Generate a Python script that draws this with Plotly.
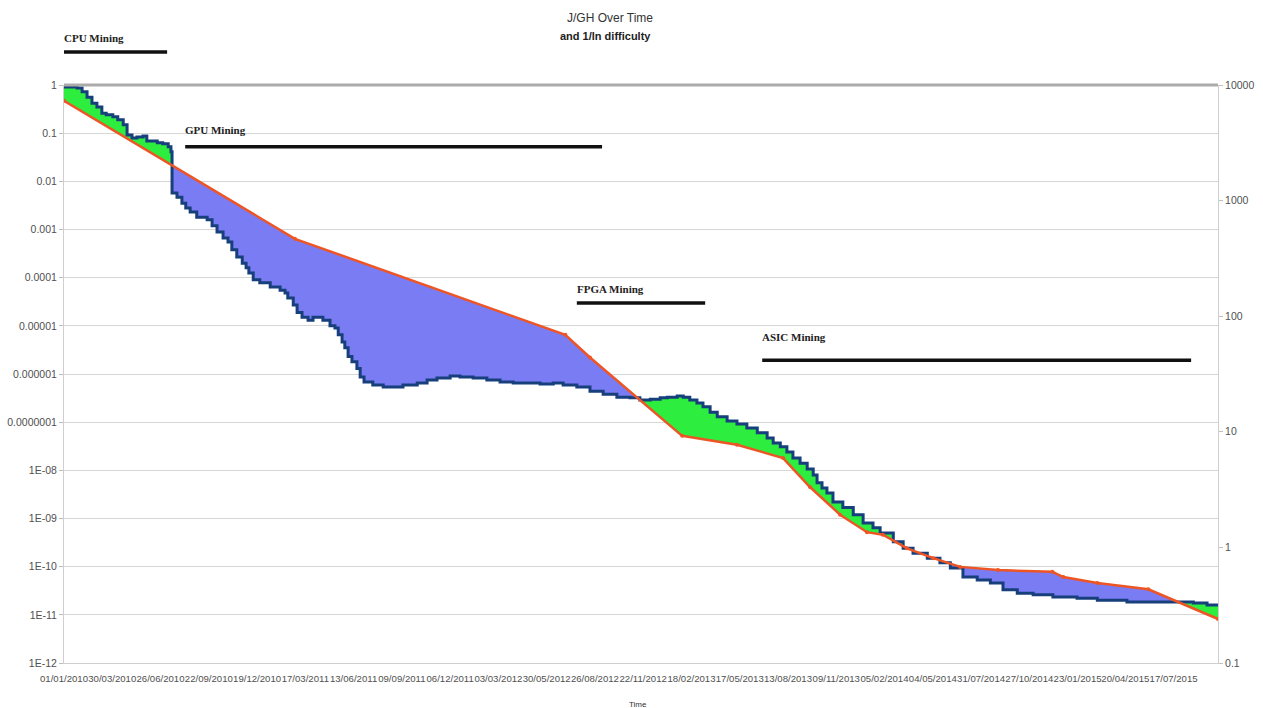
import numpy as np
import pandas as pd
import plotly.graph_objects as go

# ---------------- data ----------------
title_line1 = "J/GH Over Time"
title_line2 = "and 1/ln difficulty"
x_title = "Time"

blue_dates = [
    "2010-01-01", "2010-01-25", "2010-02-03", "2010-02-12", "2010-02-21", "2010-03-02",
    "2010-03-11", "2010-03-19", "2010-03-31", "2010-04-09", "2010-04-19", "2010-04-26",
    "2010-05-05", "2010-05-14", "2010-05-25", "2010-06-01", "2010-06-20", "2010-06-30",
    "2010-07-10", "2010-07-15", "2010-07-17", "2010-07-26", "2010-08-04", "2010-08-11",
    "2010-08-19", "2010-08-31", "2010-09-19", "2010-09-28", "2010-10-07", "2010-10-18",
    "2010-10-27", "2010-11-03", "2010-11-12", "2010-11-22", "2010-11-29", "2010-12-04",
    "2010-12-12", "2010-12-24", "2011-01-12", "2011-01-30", "2011-02-08", "2011-02-13",
    "2011-02-23", "2011-03-02", "2011-03-11", "2011-03-22", "2011-03-31", "2011-04-18",
    "2011-05-01", "2011-05-10", "2011-05-16", "2011-05-23", "2011-05-28", "2011-06-03",
    "2011-06-10", "2011-06-19", "2011-06-25", "2011-07-02", "2011-07-18", "2011-08-06",
    "2011-08-24", "2011-09-11", "2011-10-07", "2011-10-25", "2011-11-12", "2011-12-06",
    "2011-12-24", "2012-01-17", "2012-02-11", "2012-03-06", "2012-03-30", "2012-04-24",
    "2012-05-18", "2012-06-11", "2012-06-29", "2012-07-24", "2012-08-17", "2012-09-10",
    "2012-10-05", "2012-10-29", "2012-11-16", "2012-12-05", "2012-12-23", "2013-01-05",
    "2013-01-23", "2013-02-03", "2013-02-15", "2013-02-28", "2013-03-11", "2013-03-24",
    "2013-04-06", "2013-04-24", "2013-05-12", "2013-05-30", "2013-06-18", "2013-07-06",
    "2013-07-17", "2013-07-30", "2013-08-11", "2013-08-22", "2013-09-04", "2013-09-17",
    "2013-09-28", "2013-10-05", "2013-10-14", "2013-10-23", "2013-11-03", "2013-11-21",
    "2013-12-10", "2013-12-28", "2014-01-15", "2014-01-28", "2014-02-21", "2014-03-11",
    "2014-03-29", "2014-04-24", "2014-05-17", "2014-06-05", "2014-06-28", "2014-07-24",
    "2014-08-17", "2014-09-09", "2014-10-05", "2014-11-03", "2014-12-09", "2015-01-22",
    "2015-02-28", "2015-04-23", "2015-06-23", "2015-08-22", "2015-09-16", "2015-10-06",
]
blue_vals = [
    0.91, 0.87, 0.72, 0.56, 0.42, 0.35,
    0.26, 0.24, 0.22, 0.19, 0.15, 0.092,
    0.079, 0.083, 0.087, 0.069, 0.063, 0.060,
    0.052, 0.041, 0.0057, 0.0047, 0.0035, 0.0028,
    0.0023, 0.0018, 0.0016, 0.0012, 8.9e-4, 6.7e-4,
    5.5e-4, 3.8e-4, 2.7e-4, 2.0e-4, 1.6e-4, 1.25e-4,
    9.0e-5, 7.8e-5, 6.4e-5, 5.5e-5, 4.8e-5, 3.8e-5,
    2.7e-5, 1.9e-5, 1.5e-5, 1.3e-5, 1.5e-5, 1.3e-5,
    1.0e-5, 9.0e-6, 6.5e-6, 4.6e-6, 3.5e-6, 2.3e-6,
    1.8e-6, 1.3e-6, 8.7e-7, 6.8e-7, 5.9e-7, 5.4e-7,
    5.4e-7, 5.9e-7, 6.5e-7, 7.5e-7, 8.3e-7, 9.1e-7,
    8.7e-7, 8.3e-7, 7.5e-7, 6.8e-7, 6.5e-7, 6.5e-7,
    6.2e-7, 6.5e-7, 5.9e-7, 5.4e-7, 4.4e-7, 3.8e-7,
    3.3e-7, 3.2e-7, 2.9e-7, 3.0e-7, 3.2e-7, 3.3e-7,
    3.5e-7, 3.3e-7, 2.9e-7, 2.5e-7, 2.1e-7, 1.6e-7,
    1.3e-7, 1.06e-7, 9.2e-8, 7.6e-8, 6.0e-8, 4.7e-8,
    3.7e-8, 3.1e-8, 2.4e-8, 1.8e-8, 1.4e-8, 1.07e-8,
    8.0e-9, 5.5e-9, 4.3e-9, 3.4e-9, 2.2e-9, 1.7e-9,
    1.2e-9, 8.1e-10, 6.4e-10, 5.0e-10, 3.3e-10, 2.4e-10,
    1.9e-10, 1.5e-10, 1.2e-10, 9.4e-11, 6.1e-11, 5.3e-11,
    4.6e-11, 3.3e-11, 2.8e-11, 2.6e-11, 2.35e-11, 2.2e-11,
    2.0e-11, 1.85e-11, 1.85e-11, 1.76e-11, 1.6e-11, 1.53e-11,
]

red_dates = [
    "2010-01-01", "2011-02-26", "2012-07-03", "2012-08-17", "2013-02-01", "2013-05-12",
    "2013-08-04", "2013-09-22", "2013-11-16", "2014-01-04", "2014-02-02", "2014-03-18",
    "2014-05-05", "2014-06-23", "2014-08-31", "2014-12-08", "2014-12-28", "2015-02-28",
    "2015-06-01", "2015-10-06",
]
red_vals = [
    0.47, 6.4e-4, 6.5e-6, 2.2e-6, 5.2e-8, 3.4e-8,
    1.8e-8, 4.5e-9, 1.2e-9, 5.2e-10, 4.6e-10, 2.4e-10,
    1.5e-10, 9.9e-11, 8.5e-11, 7.8e-11, 6.1e-11, 4.6e-11,
    3.4e-11, 8.2e-12,
]

left_tick_vals = [1, 0.1, 0.01, 0.001, 1e-4, 1e-5, 1e-6, 1e-7, 1e-8, 1e-9, 1e-10, 1e-11, 1e-12]
left_tick_text = ["1", "0.1", "0.01", "0.001", "0.0001", "0.00001", "0.000001", "0.0000001",
                  "1E-08", "1E-09", "1E-10", "1E-11", "1E-12"]
right_tick_vals = [0.1, 1, 10, 100, 1000, 10000]
right_tick_text = ["0.1", "1", "10", "100", "1000", "10000"]

x_tick_dates = [
    "2010-01-01", "2010-03-30", "2010-06-26", "2010-09-22", "2010-12-19", "2011-03-17",
    "2011-06-13", "2011-09-09", "2011-12-06", "2012-03-03", "2012-05-30", "2012-08-26",
    "2012-11-22", "2013-02-18", "2013-05-17", "2013-08-13", "2013-11-09", "2014-02-05",
    "2014-05-04", "2014-07-31", "2014-10-27", "2015-01-23", "2015-04-20", "2015-07-17",
]
x_range = ["2010-01-01", "2015-10-06"]

era_labels = ["CPU Mining", "GPU Mining", "FPGA Mining", "ASIC Mining"]
era_starts = ["2010-01-01", "2010-08-10", "2012-07-24", "2013-06-27"]
era_ends = ["2010-07-08", "2012-09-08", "2013-03-15", "2015-08-18"]

# ---------------- layout config (positions / styles) ----------------
era_text_y = [1.081, 0.922, 0.647, 0.564]
era_line_y = [1.057, 0.893, 0.623, 0.524]

C_BLUE = "#173f7c"
C_RED = "#ee5524"
C_GREEN = "#2ded3f"
C_PERI = "#7a7cf4"
GRID = "#d6d6d6"
FONT = "Liberation Sans"
TICK_COLOR = "#505050"

# ---------------- fills between the two series ----------------
bd = pd.to_datetime(blue_dates)
rd = pd.to_datetime(red_dates)
grid = pd.date_range(bd[0], bd[-1], freq="D")
gnum = grid.values.astype("int64")
bnum = bd.values.astype("int64")
rnum = rd.values.astype("int64")
idx = np.clip(np.searchsorted(bnum, gnum, side="right") - 1, 0, len(blue_vals) - 1)
b_on = np.array(blue_vals)[idx]
r_on = 10 ** np.interp(gnum, rnum, np.log10(np.array(red_vals)))
upper = np.maximum(b_on, r_on)
lower = np.minimum(b_on, r_on)
poly_x = list(grid) + list(grid[::-1])

fig = go.Figure()
fig.add_trace(go.Scatter(x=poly_x, y=list(upper) + list(r_on[::-1]), fill="toself",
                         fillcolor=C_GREEN, line=dict(width=0), mode="lines",
                         hoverinfo="skip", showlegend=False))
fig.add_trace(go.Scatter(x=poly_x, y=list(lower) + list(r_on[::-1]), fill="toself",
                         fillcolor=C_PERI, line=dict(width=0), mode="lines",
                         hoverinfo="skip", showlegend=False))
fig.add_trace(go.Scatter(x=bd, y=blue_vals, mode="lines", line=dict(color=C_BLUE, width=3, shape="hv"),
                         name="J/GH", showlegend=False))
fig.add_trace(go.Scatter(x=rd, y=red_vals, mode="lines+markers",
                         line=dict(color=C_RED, width=2.5), marker=dict(color=C_RED, size=4),
                         name="1/ln difficulty", showlegend=False))
# empty trace that attaches the secondary (right) axis
fig.add_trace(go.Scatter(x=[], y=[], yaxis="y2", showlegend=False, hoverinfo="skip"))

# era bars and labels
for lab, s, e, ty, ly in zip(era_labels, era_starts, era_ends, era_text_y, era_line_y):
    fig.add_shape(type="line", xref="x", yref="paper", x0=s, x1=e, y0=ly, y1=ly,
                  line=dict(color="#111111", width=3.5))
    fig.add_annotation(x=s, y=ty, xref="x", yref="paper", text="<b>" + lab + "</b>",
                       showarrow=False, xanchor="left", yanchor="middle", xshift=-2,
                       font=dict(family="Liberation Serif", size=11, color="#222222"))

# top heavy border line
fig.add_shape(type="line", xref="paper", yref="paper", x0=0, x1=1, y0=1, y1=1,
              line=dict(color="#ababab", width=3))

# titles
fig.add_annotation(x=0.473, y=1.116, xref="paper", yref="paper", text=title_line1, showarrow=False,
                   xanchor="center", yanchor="middle",
                   font=dict(family=FONT, size=12, color="#333333"))
fig.add_annotation(x=0.469, y=1.085, xref="paper", yref="paper", text="<b>" + title_line2 + "</b>",
                   showarrow=False, xanchor="center", yanchor="middle",
                   font=dict(family=FONT, size=11, color="#222222"))
fig.add_annotation(x=0.497, y=-0.071, xref="paper", yref="paper", text=x_title, showarrow=False,
                   xanchor="center", yanchor="middle",
                   font=dict(family=FONT, size=8, color="#333333"))

fig.update_layout(
    width=1263, height=708,
    margin=dict(l=64, r=45, t=85, b=45, autoexpand=False),
    paper_bgcolor="white", plot_bgcolor="white",
    showlegend=False,
    font=dict(family=FONT, color=TICK_COLOR),
    xaxis=dict(type="date", range=x_range, tickvals=x_tick_dates, tickformat="%d/%m/%Y",
               tickangle=0, tickfont=dict(size=9.6, color=TICK_COLOR), showgrid=False,
               showline=True, linecolor="#cfcfcf", linewidth=1, ticks="", ticklabelstandoff=6,
               zeroline=False, automargin=False),
    yaxis=dict(type="log", range=[-12, 0], tickvals=left_tick_vals, ticktext=left_tick_text,
               tickfont=dict(size=10.5, color=TICK_COLOR), showgrid=True, gridcolor=GRID, gridwidth=1,
               showline=True, linecolor="#cfcfcf", ticks="outside", ticklen=4, tickcolor="#bfbfbf",
               zeroline=False, automargin=False),
    yaxis2=dict(type="log", range=[-1, 4], overlaying="y", side="right",
                tickvals=right_tick_vals, ticktext=right_tick_text,
                tickfont=dict(size=10.5, color=TICK_COLOR), showgrid=False,
                showline=True, linecolor="#cfcfcf", ticks="outside", ticklen=4, tickcolor="#bfbfbf",
                zeroline=False, automargin=False),
)

fig.write_html("out.html", config={"displayModeBar": False},
               post_script="document.body.style.margin='0';")
